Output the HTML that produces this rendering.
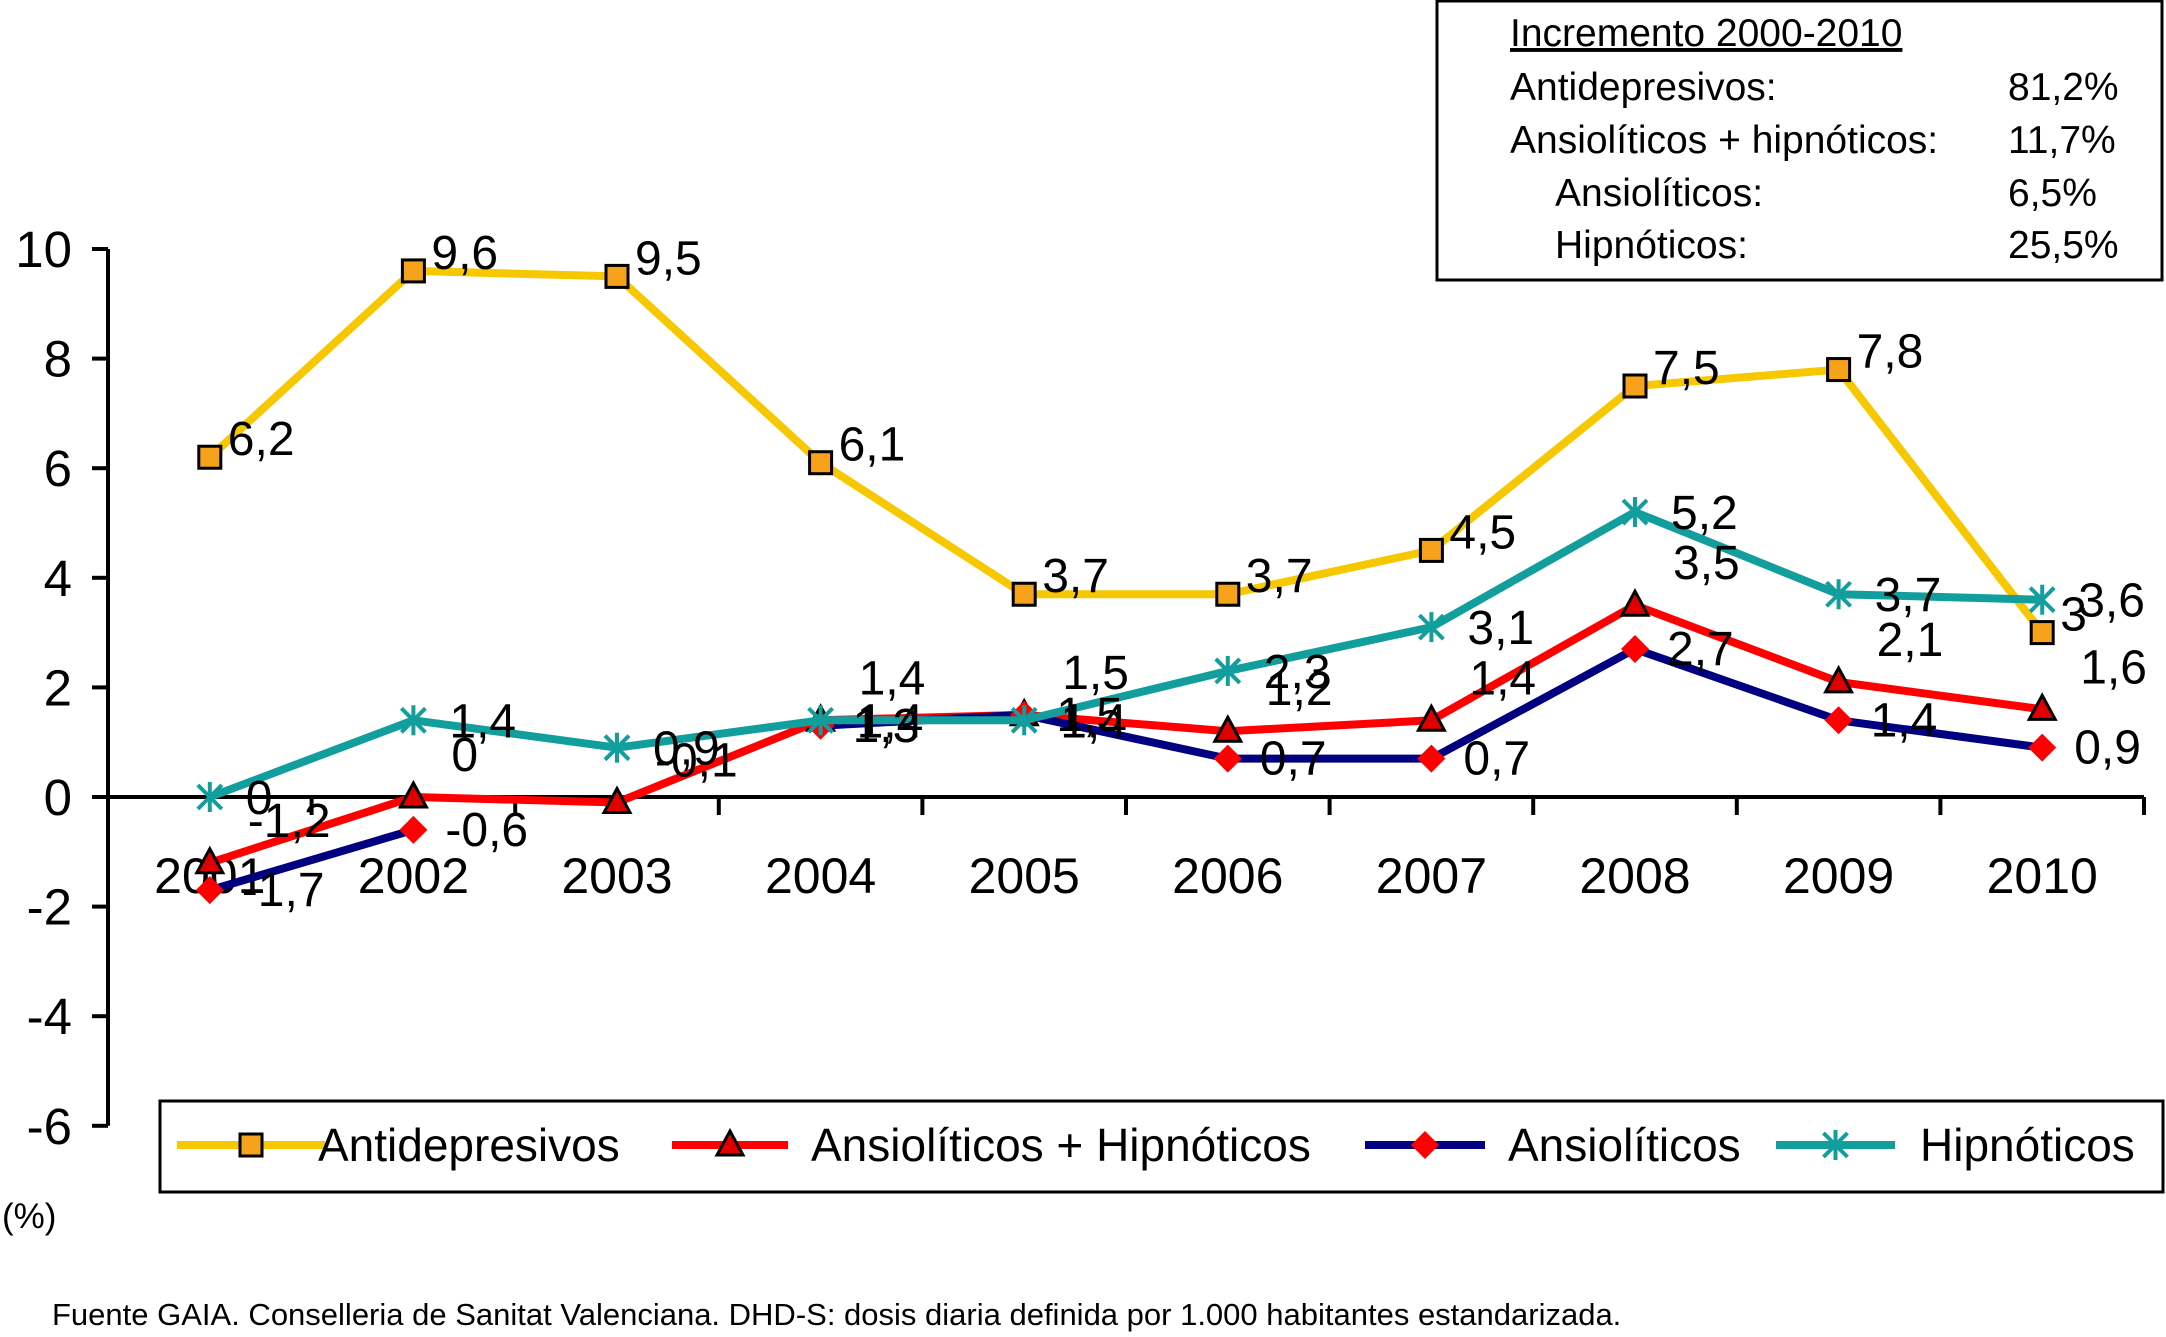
<!DOCTYPE html>
<html><head><meta charset="utf-8"><style>
html,body{margin:0;padding:0;background:#fff;}
svg{display:block;font-family:"Liberation Sans",Arial,sans-serif;}
</style></head><body>
<svg id="chart" width="2166" height="1337" viewBox="0 0 2166 1337" xmlns="http://www.w3.org/2000/svg">
<g id="axes"></g>
<g id="series"></g>
<g id="labels"></g>
<g>
<rect x="1437" y="1" width="725" height="279" fill="#fff" stroke="#000" stroke-width="3"/>
<g font-size="39" fill="#000">
<text x="1510" y="46" text-decoration="underline">Incremento 2000-2010</text>
<text x="1510" y="100">Antidepresivos:</text>
<text x="2008" y="100">81,2%</text>
<text x="1510" y="153">Ansiolíticos + hipnóticos:</text>
<text x="2008" y="153">11,7%</text>
<text x="1555" y="206">Ansiolíticos:</text>
<text x="2008" y="206">6,5%</text>
<text x="1555" y="258">Hipnóticos:</text>
<text x="2008" y="258">25,5%</text>
</g></g>
<g id="legend">
<rect x="160" y="1101" width="2003" height="91" fill="#fff" stroke="#000" stroke-width="3"/>
</g>
<text x="2" y="1228" font-size="35">(%)</text>
<text x="52" y="1325" font-size="31">Fuente GAIA. Conselleria de Sanitat Valenciana. DHD-S: dosis diaria definida por 1.000 habitantes estandarizada.</text>
</svg>
<script>
const categories = ["2001","2002","2003","2004","2005","2006","2007","2008","2009","2010"];
const antidepresivos = [6.2,9.6,9.5,6.1,3.7,3.7,4.5,7.5,7.8,3];
const ansHip = [-1.2,0,-0.1,1.4,1.5,1.2,1.4,3.5,2.1,1.6];
const ansioliticos = [-1.7,-0.6,null,1.3,1.5,0.7,0.7,2.7,1.4,0.9];
const hipnoticos = [0,1.4,0.9,1.4,1.4,2.3,3.1,5.2,3.7,3.6];
const yTicks = [10,8,6,4,2,0,-2,-4,-6];

const NS="http://www.w3.org/2000/svg";
const X0=108, X1=2144, Y10=249, Y0=797;
const bw=(X1-X0)/categories.length;
const xPos=i=>X0+bw*(i+0.5);
const yPos=v=>Y0-(v)*(Y0-Y10)/10;
function mk(tag,attrs,parent){const e=document.createElementNS(NS,tag);for(const k in attrs)e.setAttribute(k,attrs[k]);parent.appendChild(e);return e;}
const axes=document.getElementById('axes'),ser=document.getElementById('series'),lab=document.getElementById('labels'),leg=document.getElementById('legend');

const ya=mk('line',{x1:X0,y1:yPos(10),x2:X0,y2:yPos(-6),stroke:'#000','stroke-width':4},axes);


yTicks.forEach(t=>{
  mk('line',{x1:X0-16,y1:yPos(t),x2:X0,y2:yPos(t),stroke:'#000','stroke-width':4},axes);
  const tx=mk('text',{x:X0-36,y:yPos(t)+18,'text-anchor':'end','font-size':51},axes);
  tx.textContent=String(t);
  
  
});
const xa=mk('line',{x1:X0,y1:Y0,x2:X1,y2:Y0,stroke:'#000','stroke-width':4},axes);


categories.forEach((c,i)=>{
  const xt=X0+bw*(i+1);
  mk('line',{x1:xt,y1:Y0,x2:xt,y2:Y0+18,stroke:'#000','stroke-width':4},axes);
  const tx=mk('text',{x:xPos(i),y:Y0+96,'text-anchor':'middle','font-size':50},axes);
  tx.textContent=c;
  
  
});

function marker(type,cx,cy,g){
  if(type==='square') return mk('rect',{x:cx-11,y:cy-11,width:22,height:22,fill:'#F7A21B',stroke:'#000','stroke-width':3},g);
  if(type==='triangle') return mk('path',{d:`M${cx},${cy-14} L${cx+13},${cy+10} L${cx-13},${cy+10} Z`,fill:'#E00000',stroke:'#000','stroke-width':3},g);
  if(type==='diamond') return mk('path',{d:`M${cx},${cy-14} L${cx+14},${cy} L${cx},${cy+14} L${cx-14},${cy} Z`,fill:'#FF0000'},g);
  const s=mk('g',{stroke:'#139E9E','stroke-width':4},g);
  mk('line',{x1:cx-12,y1:cy-12,x2:cx+12,y2:cy+12},s);mk('line',{x1:cx+12,y1:cy-12,x2:cx-12,y2:cy+12},s);mk('line',{x1:cx,y1:cy-15,x2:cx,y2:cy+15},s);
  return s;
}
const seriesDefs=[
 {name:'antidepresivos',label:'Antidepresivos',data:antidepresivos,color:'#F7C800',m:'square',dx:18,dy:0,lx:[177,325],lt:318},
 {name:'ansioliticos-hipnoticos',label:'Ansiolíticos + Hipnóticos',data:ansHip,color:'#FF0000',m:'triangle',dx:38,dy:-26,lx:[672,788],lt:811},
 {name:'ansioliticos',label:'Ansiolíticos',data:ansioliticos,color:'#000080',m:'diamond',dx:32,dy:16,lx:[1365,1485],lt:1508},
 {name:'hipnoticos',label:'Hipnóticos',data:hipnoticos,color:'#139E9E',m:'star',dx:36,dy:17,lx:[1776,1895],lt:1920}
];
seriesDefs.forEach(s=>{
  const g=mk('g',{},ser);
  
  
  let segs=[],cur=[];
  s.data.forEach((v,i)=>{if(v===null){if(cur.length)segs.push(cur);cur=[];}else cur.push([xPos(i),yPos(v)]);});
  if(cur.length)segs.push(cur);
  segs.forEach(sg=>{if(sg.length>1){const p=mk('polyline',{points:sg.map(p=>p.join(',')).join(' '),fill:'none',stroke:s.color,'stroke-width':8,'stroke-linejoin':'round'},g);
    
    }});
  s.data.forEach((v,i)=>{
    if(v===null)return;
    const m=marker(s.m,xPos(i),yPos(v),g);
    
    
    const dy = s.name==='antidepresivos' ? -2 : s.dy;
    const t=mk('text',{x:xPos(i)+s.dx,y:yPos(v)+dy,'font-size':48},lab);
    t.textContent=String(v).replace('.',',');
    
    
  });
  const lg=mk('g',{},leg);
  
  
  const ly=1145;
  mk('line',{x1:s.lx[0],y1:ly,x2:s.lx[1],y2:ly,stroke:s.color,'stroke-width':8},lg);
  marker(s.m,(s.lx[0]+s.lx[1])/2,ly,lg);
  const lt=mk('text',{x:s.lt,y:ly+16,'font-size':46},lg);
  lt.textContent=s.label;
});
</script>
</body></html>
